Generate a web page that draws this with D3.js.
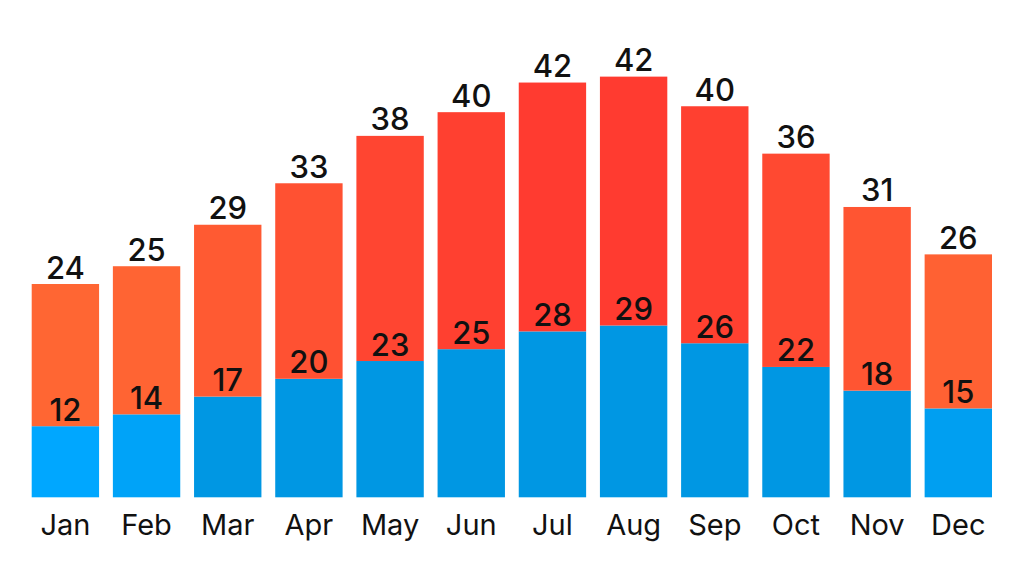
<!DOCTYPE html>
<html>
<head>
<meta charset="utf-8">
<script src="https://cdn.jsdelivr.net/npm/d3@7"></script>
<style>
    body { margin: 0; background: #fff; }
    svg text { font-family: Inter, "Noto Sans", sans-serif; fill: #111; }
</style>
</head>
<body>
<svg id="chart" width="1024" height="568"></svg>
<script>
var months = ["Jan", "Feb", "Mar", "Apr", "May", "Jun", "Jul", "Aug", "Sep", "Oct", "Nov", "Dec"];
var lows = [12, 14, 17, 20, 23, 25, 28, 29, 26, 22, 18, 15];
var highs = [24, 25, 29, 33, 38, 40, 42, 42, 40, 36, 31, 26];

var rows = months.map(function(m, i) {
    return { month: m, low: lows[i], high: highs[i] };
});

var svg = d3.select("#chart"),
    baseY = 497.3;

// blue segment is the low, red segment stacked on top of it holds the high
var series = d3.stack().keys(["low", "high"])(rows);

var x = d3.scaleBand()
    .domain(months)
    .range([31.7, 992])
    .paddingInner(0.17)
    .paddingOuter(0);

var y = d3.scaleLinear()
    .domain([0, 71])
    .range([baseY, baseY - 71 * 5.925]);

var redScale = d3.scaleLinear().domain([24, 42]).range(["#ff6633", "#ff3b30"]).clamp(true),
    blueScale = d3.scaleLinear().domain([13, 17]).range(["#00a7ff", "#0097e3"]).clamp(true);

svg.append("g")
    .selectAll("g")
    .data(series)
    .enter().append("g")
        .each(function(s) {
            d3.select(this).selectAll("rect")
                .data(s)
                .enter().append("rect")
                    .attr("x", function(d) { return x(d.data.month); })
                    .attr("width", x.bandwidth())
                    .attr("y", function(d) { return y(d[1]); })
                    .attr("height", function(d) { return y(d[0]) - y(d[1]); })
                    .attr("fill", function(d) {
                        return s.key === "low" ? blueScale(d.data.low) : redScale(d.data.high);
                    });
        });

var labels = svg.append("g").attr("text-anchor", "middle").attr("font-size", 31).attr("font-weight", 500);

series.forEach(function(s) {
    labels.selectAll(null)
        .data(s)
        .enter().append("text")
            .attr("x", function(d) { return x(d.data.month) + x.bandwidth() / 2; })
            .attr("y", function(d) { return y(d[1]) - 5.5; })
            .text(function(d) { return d.data[s.key]; });
});

svg.append("g")
    .attr("text-anchor", "middle")
    .attr("font-size", 29)
    .selectAll("text")
    .data(months)
    .enter().append("text")
        .attr("x", function(m) { return x(m) + x.bandwidth() / 2; })
        .attr("y", 535)
        .text(function(m) { return m; });
</script>
</body>
</html>
